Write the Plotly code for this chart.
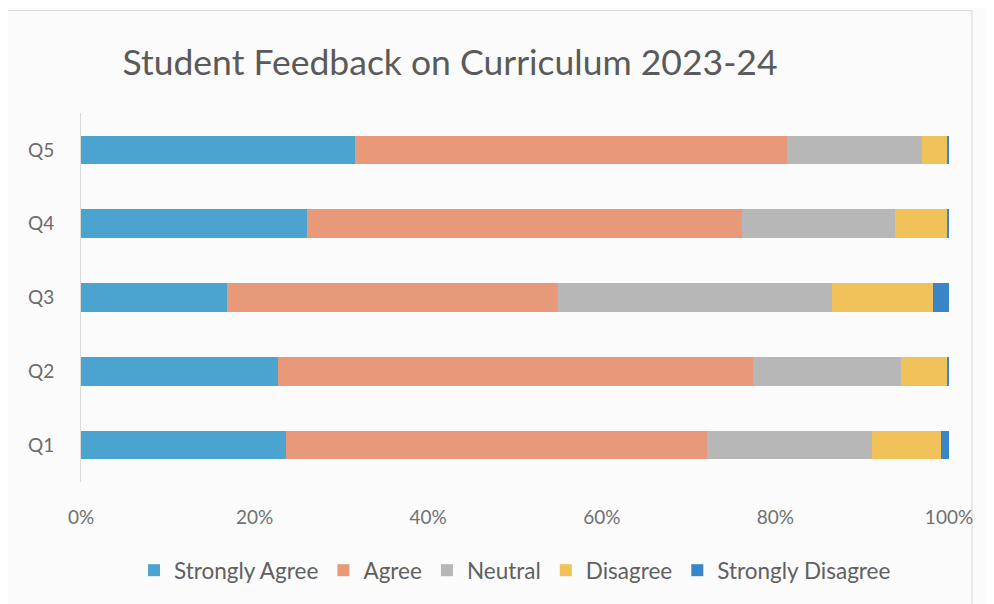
import plotly.graph_objects as go

questions = ["Q1", "Q2", "Q3", "Q4", "Q5"]
strongly_agree = [23.6, 22.7, 16.8, 26.0, 31.6]
agree = [48.5, 54.7, 38.1, 50.1, 49.8]
neutral = [19.0, 17.1, 31.5, 17.7, 15.6]
disagree = [8.0, 5.3, 11.7, 6.0, 2.9]
strongly_disagree = [0.9, 0.2, 1.8, 0.2, 0.2]
x_ticks = [0, 20, 40, 60, 80, 100]
x_tick_labels = ["0%", "20%", "40%", "60%", "80%", "100%"]

series = [
    ("Strongly Agree", strongly_agree, "#4BA3CF"),
    ("Agree", agree, "#E8997A"),
    ("Neutral", neutral, "#B7B7B7"),
    ("Disagree", disagree, "#F2C25A"),
    ("Strongly Disagree", strongly_disagree, "#3A85C6"),
]

fig = go.Figure()
for name, vals, color in series:
    fig.add_trace(go.Bar(
        y=questions, x=vals, name=name, orientation="h",
        marker=dict(color=color, line=dict(width=0)),
    ))

FONT = "Lato"
W, H = 986, 596
fig.update_layout(
    barmode="stack",
    barnorm="percent",
    bargap=0.61,
    width=W, height=H,
    margin=dict(l=73, r=45, t=105, b=120),
    paper_bgcolor="#FBFBFB",
    plot_bgcolor="#FBFBFB",
    font=dict(family=FONT, color="#6B6B6B", size=19),
    title=dict(text="Student Feedback on Curriculum 2023-24",
               x=442 / W, xanchor="center", y=1 - 55 / H, yanchor="middle",
               font=dict(family=FONT, size=35.5, color="#5A5A5A")),
    legend=dict(orientation="h", x=0.5, xanchor="center", y=-0.24, yanchor="middle",
                font=dict(size=22.5, color="#606060"), traceorder="normal",
                itemwidth=30, bgcolor="rgba(0,0,0,0)"),
    showlegend=True,
)
fig.update_xaxes(range=[0, 100], tickvals=x_ticks, ticktext=x_tick_labels,
                 showgrid=False, zeroline=False, showline=False,
                 ticklabelstandoff=22, tickfont=dict(size=19, color="#707070"))
fig.update_yaxes(showgrid=False, showline=True, linecolor="#DADADA", linewidth=1,
                 ticklabelstandoff=22, tickfont=dict(size=19, color="#6B6B6B"))

fig.add_shape(type="rect", xref="paper", yref="paper",
              x0=(-1 - 73) / 868, x1=(964 - 73) / 868, y0=(476 - 600) / 371, y1=(476 - 2) / 371,
              line=dict(color="#D8D8D8", width=1), fillcolor="rgba(0,0,0,0)", layer="below")

fig.write_html("out.html")
